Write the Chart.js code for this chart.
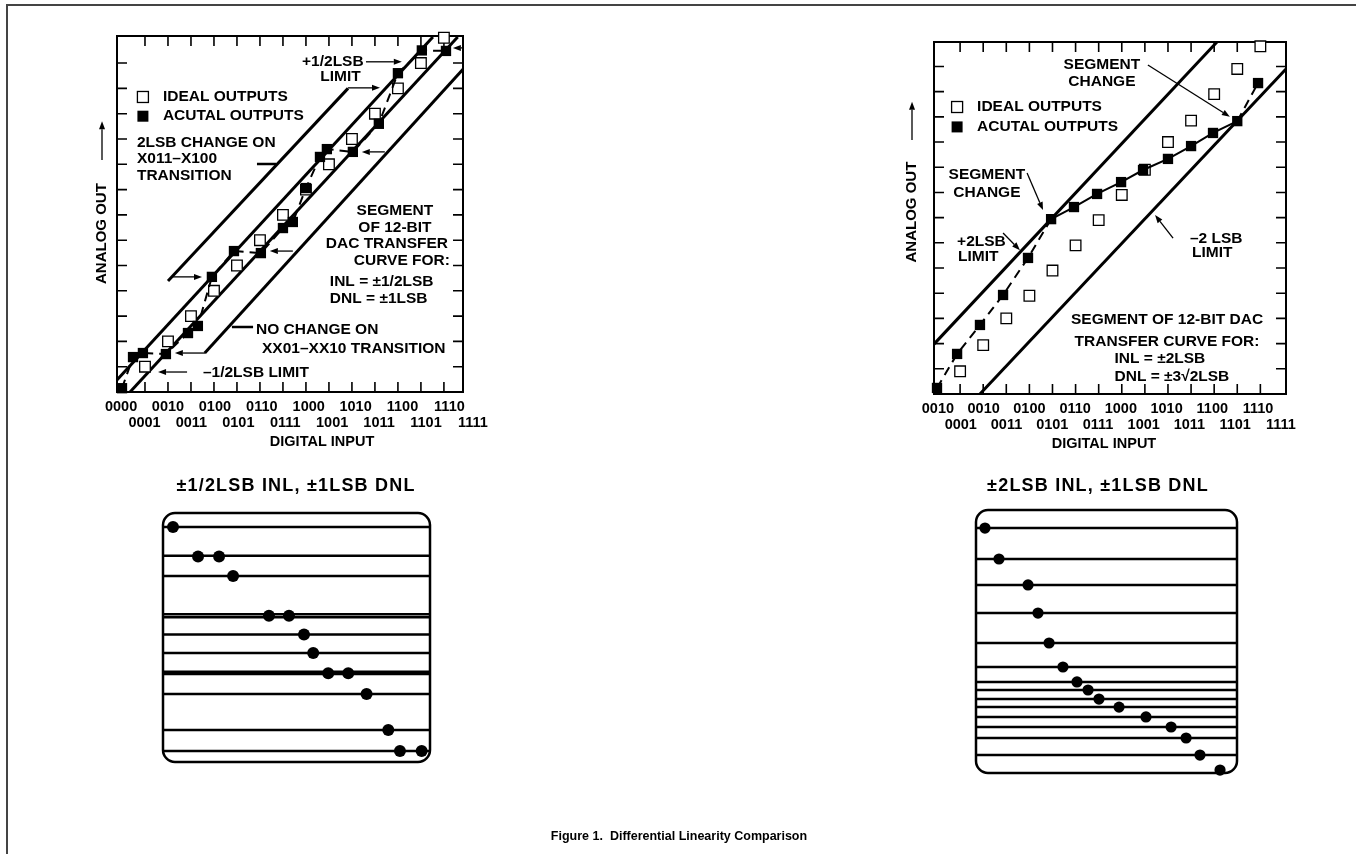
<!DOCTYPE html>
<html>
<head>
<meta charset="utf-8">
<script src="https://cdn.jsdelivr.net/npm/chart.js@4.4.1/dist/chart.umd.min.js"></script>
<style>
  body { margin: 0; background: #fff; }
  #page { position: relative; width: 1356px; height: 854px; overflow: hidden; background: #fff;
          font-family: "Liberation Sans", Arial, Helvetica, sans-serif; }
  #page canvas { position: absolute; left: 0; top: 0; }
  .rule-top { position: absolute; left: 7px; top: 4px; width: 1349px; height: 2px; background: #444; }
  .rule-left { position: absolute; left: 6px; top: 4px; width: 2px; height: 850px; background: #444; }
  .title { position: absolute; transform: translate(-50%, -50%); font-weight: bold; white-space: nowrap; }
  .panel-title { font-size: 18px; letter-spacing: 1.2px; top: 485px; }
  .caption { font-size: 12.5px; top: 836px; left: 679px; }
</style>
</head>
<body>
<div id="page">
  <div class="rule-top"></div>
  <div class="rule-left"></div>
  <canvas id="transfer-left" width="1356" height="854"></canvas>
  <canvas id="transfer-right" width="1356" height="854"></canvas>
  <canvas id="dnl-left" width="1356" height="854"></canvas>
  <canvas id="dnl-right" width="1356" height="854"></canvas>
  <div class="title panel-title" style="left:296px">±1/2LSB INL, ±1LSB DNL</div>
  <div class="title panel-title" style="left:1098px">±2LSB INL, ±1LSB DNL</div>
  <div class="title caption">Figure 1.&nbsp; Differential Linearity Comparison</div>
</div>
<script>
// digital input codes under each transfer plot (two staggered rows)
const codeLabelsLeft = ['0000', '0001', '0010', '0011', '0100', '0101', '0110', '0111',
                        '1000', '1001', '1010', '1011', '1100', '1101', '1110', '1111'];
const codeLabelsRight = ['0010', '0001', '0010', '0011', '0100', '0101', '0110', '0111',
                         '1000', '1001', '1010', '1011', '1100', '1101', '1110', '1111'];
const tickCodes = [1, 2, 3, 4, 5, 6, 7, 8, 9, 10, 11, 12, 13, 14];
const tickLevels = [1, 2, 3, 4, 5, 6, 7, 8, 9, 10, 11, 12, 13];

// left plot: +-1/2 LSB INL, +-1 LSB DNL (x = code, y = LSB)
const idealLeftX = [1, 2, 3, 4, 5, 6, 7, 8, 9, 10, 11, 12, 13, 14];
const idealLeftY = [1, 2, 3, 4, 5, 6, 7, 8, 9, 10, 11, 12, 13, 14];
const actualLeftX = [0, 0.48, 0.91, 1.91, 2.87, 3.3, 3.91, 4.87, 6.04, 7.0, 7.43, 8.0, 8.61, 8.91, 10.04, 11.17, 12.0, 13.04, 14.09];
const actualLeftY = [0.15, 1.38, 1.54, 1.5, 2.33, 2.61, 4.55, 5.57, 5.49, 6.48, 6.72, 8.06, 9.29, 9.6, 9.49, 10.6, 12.6, 13.5, 13.48];
const limitsLeft = [
  [[-0.22, 0.47], [13.52, 14.03]],   // +1/2 LSB
  [[0.35, 0], [14.6, 14.03]],        // -1/2 LSB
  [[2.0, 4.39], [9.83, 12.0]],       // 2LSB change marker
  [[3.6, 1.54], [14.83, 12.76]]      // no change marker
];

// right plot: +-2 LSB INL
const idealRightX = [1, 2, 3, 4, 5, 6, 7, 8, 9, 10, 11, 12, 13, 14];
const idealRightY = [0.9, 1.94, 3.0, 3.9, 4.9, 5.9, 6.9, 7.9, 8.9, 10.0, 10.85, 11.9, 12.9, 13.8];
const actualRightX = [0, 0.87, 1.86, 2.86, 3.94, 4.94, 5.93, 6.93, 7.97, 8.92, 10.0, 11.0, 11.95, 13.0, 13.9];
const actualRightY = [0.24, 1.59, 2.74, 3.93, 5.4, 6.94, 7.42, 7.94, 8.41, 8.89, 9.33, 9.84, 10.36, 10.83, 12.34];
const solidFrom = 5, solidTo = 13;   // segment drawn solid between these points
const limitsRight = [
  [[-0.13, 1.98], [12.12, 13.97]],   // +2 LSB
  [[1.86, 0], [15.11, 12.9]]         // -2 LSB
];

// DNL bar panels: dot position along code axis, output level, and level lines
const dnlLeftX = [0.6, 2.1, 3.36, 4.2, 6.35, 7.55, 8.45, 9.0, 9.9, 11.1, 12.2, 13.5, 14.2, 15.5];
const dnlLeftY = [15.1, 13.2, 13.2, 11.95, 9.4, 9.4, 8.2, 7.0, 5.7, 5.7, 4.37, 2.06, 0.7, 0.7];
const dnlLeftLevels = [15.1, 13.25, 11.95, 9.5, 9.3, 8.2, 7.0, 5.8, 5.65, 4.37, 2.06, 0.7];
const dnlRightX = [0.55, 1.41, 3.19, 3.8, 4.48, 5.33, 6.19, 6.87, 7.54, 8.77, 10.42, 11.96, 12.88, 13.73, 14.96];
const dnlRightY = [14.9, 13.02, 11.44, 9.73, 7.91, 6.45, 5.54, 5.05, 4.5, 4.01, 3.41, 2.8, 2.13, 1.09, 0.18];
const dnlRightLevels = [14.9, 13.02, 11.44, 9.73, 7.91, 6.45, 5.54, 5.05, 4.5, 4.01, 3.41, 2.8, 2.13, 1.09];

const FONT = '"Liberation Sans", Arial, Helvetica, sans-serif';
const pts = (xs, ys) => xs.map((x, i) => ({ x: x, y: ys[i] }));

function arrow(ctx, x1, y1, x2, y2) {
  const a = Math.atan2(y2 - y1, x2 - x1);
  const hl = 8, hw = 3;
  const bx = x2 - hl * Math.cos(a), by = y2 - hl * Math.sin(a);
  ctx.save();
  ctx.lineWidth = 1.3;
  ctx.strokeStyle = '#000';
  ctx.fillStyle = '#000';
  ctx.beginPath(); ctx.moveTo(x1, y1); ctx.lineTo(bx, by); ctx.stroke();
  ctx.beginPath();
  ctx.moveTo(x2, y2);
  ctx.lineTo(bx + hw * Math.sin(a), by - hw * Math.cos(a));
  ctx.lineTo(bx - hw * Math.sin(a), by + hw * Math.cos(a));
  ctx.closePath(); ctx.fill();
  ctx.restore();
}

// frame, inward ticks, code labels, annotations for the transfer plots
const transferDeco = {
  id: 'deco',
  beforeDatasetsDraw(chart, args, o) {
    const { ctx, chartArea: a, scales: { x, y } } = chart;
    ctx.save();
    ctx.strokeStyle = '#000';
    ctx.lineWidth = 2;
    ctx.strokeRect(a.left, a.top, a.right - a.left, a.bottom - a.top);
    ctx.lineWidth = 1.6;
    ctx.beginPath();
    tickCodes.forEach(c => {
      const px = x.getPixelForValue(c);
      ctx.moveTo(px, a.bottom); ctx.lineTo(px, a.bottom - 10);
      ctx.moveTo(px, a.top); ctx.lineTo(px, a.top + 10);
    });
    tickLevels.forEach(l => {
      const py = y.getPixelForValue(l);
      ctx.moveTo(a.left, py); ctx.lineTo(a.left + 10, py);
      ctx.moveTo(a.right, py); ctx.lineTo(a.right - 10, py);
    });
    ctx.stroke();
    ctx.restore();
  },
  afterDatasetsDraw(chart, args, o) {
    const { ctx, chartArea: a, scales: { x, y } } = chart;
    const X = v => x.getPixelForValue(v), Y = v => y.getPixelForValue(v);
    ctx.save();
    ctx.fillStyle = '#000';
    ctx.textBaseline = 'middle';
    // code labels, staggered rows
    ctx.font = 'bold 14.5px ' + FONT;
    ctx.textAlign = 'center';
    o.codes.forEach((t, i) => {
      ctx.fillText(t, X(i * o.codeSpread + o.codeShift), a.bottom + (i % 2 ? 31 : 15));
    });
    ctx.fillText('DIGITAL INPUT', X(o.xTitleAt), a.bottom + 50);
    // rotated y title with arrow
    ctx.save();
    ctx.translate(a.left - o.yTitleGap, Y(o.yTitleAt));
    ctx.rotate(-Math.PI / 2);
    ctx.font = 'bold 15px ' + FONT;
    ctx.fillText('ANALOG OUT', 0, 0);
    ctx.restore();
    arrow(ctx, a.left - o.yTitleGap, Y(o.yArrow[0]), a.left - o.yTitleGap, Y(o.yArrow[1]));
    // legend
    ctx.textAlign = 'left';
    ctx.font = 'bold 15.5px ' + FONT;
    const [lx, ly1, ly2] = o.legend;
    ctx.lineWidth = 1.3;
    ctx.fillStyle = '#fff';
    ctx.fillRect(X(lx) - 5.5, Y(ly1) - 5.5, 11, 11);
    ctx.strokeRect(X(lx) - 5.5, Y(ly1) - 5.5, 11, 11);
    ctx.fillStyle = '#000';
    ctx.fillRect(X(lx) - 5.5, Y(ly2) - 5.5, 11, 11);
    ctx.fillText('IDEAL OUTPUTS', X(lx) + 20, Y(ly1));
    ctx.fillText('ACUTAL OUTPUTS', X(lx) + 20, Y(ly2));
    // annotation texts
    o.notes.forEach(n => {
      ctx.textAlign = n[3] || 'left';
      ctx.fillText(n[0], X(n[1]), Y(n[2]));
    });
    // connector lines from notes to limit lines
    ctx.lineWidth = 2.5;
    ctx.beginPath();
    (o.leaders || []).forEach(l => {
      ctx.moveTo(X(l[0]), Y(l[1])); ctx.lineTo(X(l[2]), Y(l[3]));
    });
    ctx.stroke();
    o.arrows.forEach(r => arrow(ctx, X(r[0]), Y(r[1]), X(r[2]), Y(r[3])));
    ctx.restore();
  }
};

// rounded frame and level lines for the DNL panels
const dnlDeco = {
  id: 'deco',
  beforeDatasetsDraw(chart, args, o) {
    const { ctx, chartArea: a, scales: { y } } = chart;
    ctx.save();
    ctx.strokeStyle = '#000';
    ctx.lineWidth = 2.5;
    ctx.beginPath();
    o.levels.forEach(l => {
      const py = y.getPixelForValue(l);
      ctx.moveTo(a.left, py); ctx.lineTo(a.right, py);
    });
    ctx.stroke();
    ctx.beginPath();
    ctx.roundRect(a.left, a.top, a.right - a.left, a.bottom - a.top, 12);
    ctx.stroke();
    ctx.restore();
  }
};

function pad(l, t, r, b) {
  return { left: l, top: t, right: 1356 - r, bottom: 854 - b };
}

function transferChart(id, box, xr, yr, ideal, actual, limits, actualSegment, deco) {
  const datasets = [
    {
      data: actual, showLine: true, clip: false,
      borderColor: '#000', borderWidth: 2, borderDash: actualSegment ? [] : [9, 6],
      segment: actualSegment ? { borderDash: actualSegment } : undefined,
      pointStyle: 'rect', pointRadius: 7.3, pointBackgroundColor: '#000', pointBorderColor: '#000', pointBorderWidth: 0
    },
    {
      data: ideal, showLine: false, clip: false,
      pointStyle: 'rect', pointRadius: 7.5, pointBackgroundColor: '#fff', pointBorderColor: '#000', pointBorderWidth: 1.3
    }
  ];
  limits.forEach(seg => datasets.push({
    data: seg.map(p => ({ x: p[0], y: p[1] })), showLine: true, pointRadius: 0,
    borderColor: '#000', borderWidth: 3, clip: false
  }));
  return new Chart(document.getElementById(id), {
    type: 'scatter',
    data: { datasets: datasets },
    options: {
      responsive: false, animation: false, devicePixelRatio: 1,
      layout: { padding: pad(box[0], box[1], box[2], box[3]) },
      scales: {
        x: { type: 'linear', min: xr[0], max: xr[1], display: false },
        y: { type: 'linear', min: yr[0], max: yr[1], display: false }
      },
      plugins: { legend: { display: false }, tooltip: { enabled: false }, deco: deco }
    },
    plugins: [transferDeco]
  });
}

function dnlChart(id, box, xs, ys, levels, radius) {
  return new Chart(document.getElementById(id), {
    type: 'scatter',
    data: { datasets: [{
      data: pts(xs, ys), clip: false,
      pointRadius: radius, pointBackgroundColor: '#000', pointBorderWidth: 0
    }] },
    options: {
      responsive: false, animation: false, devicePixelRatio: 1,
      layout: { padding: pad(box[0], box[1], box[2], box[3]) },
      scales: {
        x: { type: 'linear', min: 0, max: 16, display: false },
        y: { type: 'linear', min: 0, max: 16, display: false }
      },
      plugins: { legend: { display: false }, tooltip: { enabled: false }, deco: { levels: levels } }
    },
    plugins: [dnlDeco]
  });
}

transferChart('transfer-left', [117, 36, 463, 392], [-0.217, 14.83], [0, 14.07],
  pts(idealLeftX, idealLeftY), pts(actualLeftX, actualLeftY), limitsLeft, null, {
    codes: codeLabelsLeft, codeSpread: 1.02, codeShift: -0.04, xTitleAt: 8.7,
    yTitleGap: 15, yTitleAt: 6.26, yArrow: [9.17, 10.7],
    legend: [0.91, 11.66, 10.9],
    notes: [
      ['+1/2LSB', 9.17, 13.04, 'center'],
      ['LIMIT', 9.5, 12.45, 'center'],
      ['2LSB CHANGE ON', 0.65, 9.84],
      ['X011–X100', 0.65, 9.22],
      ['TRANSITION', 0.65, 8.55],
      ['SEGMENT', 11.87, 7.15, 'center'],
      ['OF 12-BIT', 11.87, 6.5, 'center'],
      ['DAC TRANSFER', 11.52, 5.88, 'center'],
      ['CURVE FOR:', 12.17, 5.17, 'center'],
      ['INL = ±1/2LSB', 9.04, 4.35],
      ['DNL = ±1LSB', 9.04, 3.68],
      ['NO CHANGE ON', 5.83, 2.45],
      ['XX01–XX10 TRANSITION', 6.09, 1.7],
      ['–1/2LSB LIMIT', 3.52, 0.75]
    ],
    leaders: [[5.87, 9.01, 6.7, 9.01], [4.78, 2.57, 5.7, 2.57]],
    arrows: [
      [10.61, 13.05, 12.17, 13.05], [9.83, 12.02, 11.22, 12.02], [11.43, 9.49, 10.43, 9.49],
      [7.43, 5.57, 6.43, 5.57], [2.22, 4.55, 3.48, 4.55], [3.61, 1.54, 2.3, 1.54],
      [2.83, 0.79, 1.57, 0.79], [14.83, 13.6, 14.39, 13.6]
    ]
  });

transferChart('transfer-right', [934, 42, 1286, 394], [-0.13, 15.11], [0, 13.97],
  pts(idealRightX, idealRightY), pts(actualRightX, actualRightY), limitsRight,
  c => (c.p0DataIndex < solidFrom || c.p0DataIndex >= solidTo) ? [9, 6] : undefined, {
    codes: codeLabelsRight, codeSpread: 0.99, codeShift: 0.04, xTitleAt: 7.23,
    yTitleGap: 22, yTitleAt: 7.22, yArrow: [10.08, 11.6],
    legend: [0.87, 11.39, 10.6],
    notes: [
      ['SEGMENT', 7.14, 13.06, 'center'],
      ['CHANGE', 7.14, 12.38, 'center'],
      ['SEGMENT', 2.16, 8.69, 'center'],
      ['CHANGE', 2.16, 7.98, 'center'],
      ['+2LSB', 0.87, 6.03],
      ['LIMIT', 0.91, 5.44],
      ['–2 LSB', 10.95, 6.15],
      ['LIMIT', 11.04, 5.6],
      ['SEGMENT OF 12-BIT DAC', 9.96, 2.94, 'center'],
      ['TRANSFER CURVE FOR:', 9.96, 2.06, 'center'],
      ['INL = ±2LSB', 9.65, 1.39, 'center'],
      ['DNL = ±3√2LSB', 10.17, 0.67, 'center']
    ],
    arrows: [
      [9.13, 13.06, 12.68, 11.0], [3.9, 8.77, 4.59, 7.3], [2.86, 6.39, 3.59, 5.71], [10.22, 6.19, 9.44, 7.1]
    ]
  });

dnlChart('dnl-left', [163, 513, 430, 762], dnlLeftX, dnlLeftY, dnlLeftLevels, 6);
dnlChart('dnl-right', [976, 510, 1237, 773], dnlRightX, dnlRightY, dnlRightLevels, 5.6);
</script>
</body>
</html>
